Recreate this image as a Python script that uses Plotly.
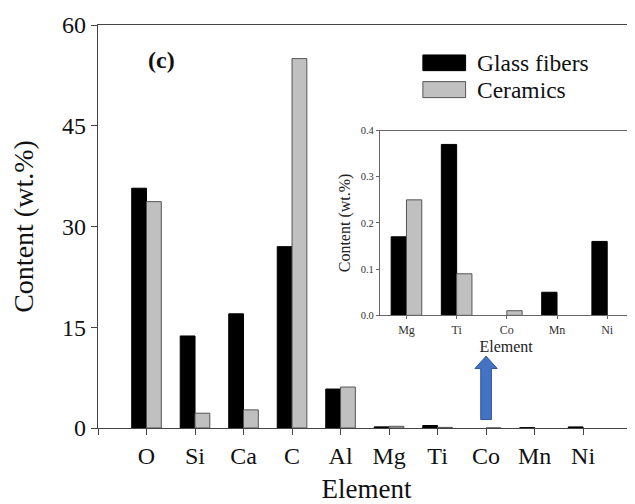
import plotly.graph_objects as go

elements = ["O", "Si", "Ca", "C", "Al", "Mg", "Ti", "Co", "Mn", "Ni"]
glass_fibers = [35.7, 13.7, 17.0, 27.0, 5.8, 0.17, 0.37, 0.0, 0.05, 0.16]
ceramics = [33.7, 2.2, 2.7, 55.0, 6.1, 0.25, 0.09, 0.01, 0.0, 0.0]

inset_elements = ["Mg", "Ti", "Co", "Mn", "Ni"]
inset_glass = [0.17, 0.37, 0.0, 0.05, 0.16]
inset_ceramics = [0.25, 0.09, 0.01, 0.0, 0.0]

main_yticks = [0, 15, 30, 45, 60]
inset_yticks = [0.0, 0.1, 0.2, 0.3, 0.4]

FONT = "Times New Roman, Liberation Serif, serif"
BLACK = "#000000"
GRAY = "#C0C0C0"
EDGE = "#555555"

def edge_widths(vals, w):
    return [w if v > 0 else 0 for v in vals]

fig = go.Figure()
fig.add_trace(go.Bar(x=list(range(len(elements))), y=glass_fibers, name="Glass fibers",
                     marker=dict(color=BLACK, line=dict(color=BLACK, width=edge_widths(glass_fibers, 1))),
                     xaxis="x", yaxis="y", showlegend=False))
fig.add_trace(go.Bar(x=list(range(len(elements))), y=ceramics, name="Ceramics",
                     marker=dict(color=GRAY, line=dict(color=EDGE, width=edge_widths(ceramics, 1))),
                     xaxis="x", yaxis="y", showlegend=False))
fig.add_trace(go.Bar(x=list(range(len(inset_elements))), y=inset_glass, name="Glass fibers",
                     marker=dict(color=BLACK, line=dict(color=BLACK, width=edge_widths(inset_glass, 1))),
                     xaxis="x2", yaxis="y2", showlegend=False))
fig.add_trace(go.Bar(x=list(range(len(inset_elements))), y=inset_ceramics, name="Ceramics",
                     marker=dict(color=GRAY, line=dict(color=EDGE, width=edge_widths(inset_ceramics, 1))),
                     xaxis="x2", yaxis="y2", showlegend=False))

# page body has an 8px margin: size figure so it fills the 635x504 window
OFF = 8
W, H = 635 - OFF, 504 - OFF
L = 98.3 - OFF
T = 25 - OFF
B = H - (428.5 - OFF)
R = 0
pw, ph = W - L - R, H - T - B

def px_x(p):
    return (p - OFF - L) / pw

def px_y(p):
    return (H - B - (p - OFF)) / ph

main_tickvals = [-1] + list(range(len(elements)))
main_ticktext = [""] + elements

fig.update_layout(
    width=W, height=H,
    margin=dict(l=L, r=R, t=T, b=B, autoexpand=False),
    paper_bgcolor="white", plot_bgcolor="white",
    barmode="group", bargap=0.39, bargroupgap=0,
    font=dict(family=FONT, color="#111111"),
    xaxis=dict(
        domain=[0, 1], range=[-1.0, 10.07], automargin=False,
        tickmode="array", tickvals=main_tickvals, ticktext=main_ticktext,
        ticks="outside", ticklen=6, tickwidth=1.2, tickcolor="#444",
        showline=True, linecolor="#444", linewidth=1.3, mirror=True,
        showgrid=False, zeroline=False,
        tickfont=dict(size=24, family=FONT, color="#111"),
        title=dict(text="Element", font=dict(size=27, family=FONT, color="#111"), standoff=12),
    ),
    yaxis=dict(
        domain=[0, 1], range=[0, 60], automargin=False,
        tickmode="array", tickvals=main_yticks, ticktext=[str(v) for v in main_yticks],
        ticks="outside", ticklen=6, tickwidth=1.2, tickcolor="#444",
        showline=True, linecolor="#444", linewidth=1.3, mirror=False,
        showgrid=False, zeroline=False,
        tickfont=dict(size=24, family=FONT, color="#111"),
        title=dict(text="Content (wt.%)", font=dict(size=28, family=FONT, color="#111"), standoff=22),
    ),
    xaxis2=dict(
        domain=[px_x(380), px_x(632.3)], anchor="y2", range=[-0.53, 4.5], automargin=False,
        tickmode="array", tickvals=list(range(len(inset_elements))), ticktext=inset_elements,
        ticks="outside", ticklen=3, tickwidth=1, tickcolor="#666",
        showline=True, linecolor="#666", linewidth=1, mirror=True,
        showgrid=False, zeroline=False,
        tickfont=dict(size=12, family=FONT, color="#333"),
        title=dict(text="Element", font=dict(size=16, family=FONT, color="#222"), standoff=5),
    ),
    yaxis2=dict(
        domain=[px_y(315.7), px_y(130.7)], anchor="x2", range=[0, 0.4], automargin=False,
        tickmode="array", tickvals=inset_yticks, ticktext=[f"{v:.1f}" for v in inset_yticks],
        ticks="outside", ticklen=3, tickwidth=1, tickcolor="#666",
        showline=True, linecolor="#666", linewidth=1, mirror=True,
        showgrid=False, zeroline=False,
        tickfont=dict(size=10.5, family=FONT, color="#333"),
        title=dict(text="Content (wt.%)", font=dict(size=16, family=FONT, color="#222"), standoff=6),
    ),
)

# custom legend
legend_items = [("Glass fibers", BLACK, BLACK, 55, 70.7), ("Ceramics", GRAY, EDGE, 81.7, 97.7)]
for name, fill, edge, y0, y1 in legend_items:
    fig.add_shape(type="rect", xref="paper", yref="paper",
                  x0=px_x(423), x1=px_x(465.7), y0=px_y(y1), y1=px_y(y0),
                  fillcolor=fill, line=dict(color=edge, width=1))
    fig.add_annotation(xref="paper", yref="paper", x=px_x(475), y=px_y((y0 + y1) / 2),
                       text=name, showarrow=False, xanchor="left", yanchor="middle",
                       font=dict(size=23.5, family=FONT, color="#111"))

# panel label
fig.add_annotation(xref="paper", yref="paper", x=px_x(161.7), y=px_y(60),
                   text="<b>(c)</b>", showarrow=False, xanchor="center", yanchor="middle",
                   font=dict(size=24, family=FONT, color="#111"))

# blue arrow pointing at Co (index 7) in data coords of main axes
cx = 7
sw, hw = 0.11, 0.23
yb, yh, yt = 1.26, 8.85, 10.7
path = (f"M {cx-sw},{yb} L {cx+sw},{yb} L {cx+sw},{yh} L {cx+hw},{yh} "
        f"L {cx},{yt} L {cx-hw},{yh} L {cx-sw},{yh} Z")
fig.add_shape(type="path", xref="x", yref="y", path=path,
              fillcolor="#4472C4", line=dict(color="#2F5597", width=1))

fig.write_html("out.html")
